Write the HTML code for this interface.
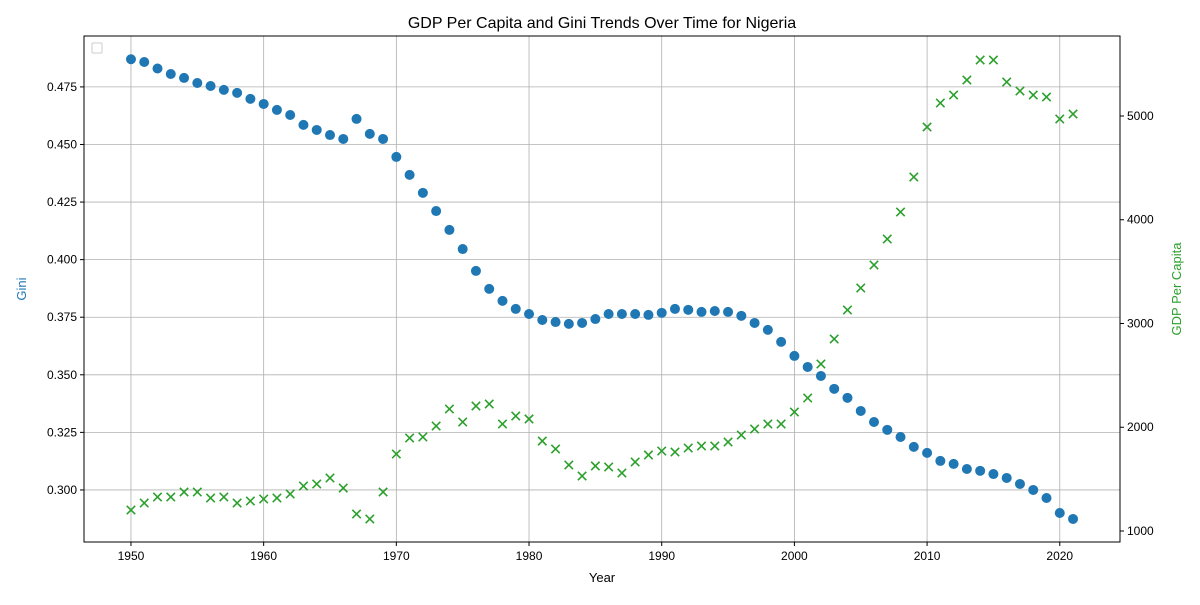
<!DOCTYPE html>
<html><head><meta charset="utf-8"><style>
body{margin:0;background:#fff;}
svg{font-family:"Liberation Sans","DejaVu Sans",sans-serif;}
</style></head><body>
<svg id="chart" width="1200" height="600">
<rect x="0" y="0" width="1200" height="600" fill="#fff"/>
<g id="grid"></g>
<g id="marks"></g>
<rect x="84" y="36" width="1036" height="506" fill="none" stroke="#000" stroke-width="1"/>
<g id="axes"></g>
<text x="602" y="28" text-anchor="middle" font-size="16">GDP Per Capita and Gini Trends Over Time for Nigeria</text>
<text x="602" y="582" text-anchor="middle" font-size="13">Year</text>
<text transform="translate(26,289) rotate(-90)" text-anchor="middle" font-size="13" fill="#1f77b4">Gini</text>
<text transform="translate(1181,289) rotate(-90)" text-anchor="middle" font-size="13" fill="#2ca02c">GDP Per Capita</text>
<rect x="92" y="43" width="10" height="10" rx="1" fill="#fff" stroke="#ccc"/>
</svg>
<script>
const years = [];
for (let y = 1950; y <= 2021; y++) years.push(y);
const gini = [0.487,0.4858,0.483,0.4806,0.4789,0.4767,0.4754,0.4737,0.4724,0.4698,0.4676,0.465,0.4628,0.4585,0.4563,0.4541,0.4524,0.4611,0.4546,0.4524,0.4446,0.4368,0.429,0.4211,0.4129,0.4046,0.3951,0.3873,0.3821,0.3786,0.3764,0.3738,0.3729,0.3721,0.3725,0.3742,0.3764,0.3764,0.3764,0.376,0.3769,0.3786,0.3782,0.3773,0.3777,0.3773,0.3756,0.3725,0.3695,0.3643,0.3582,0.3534,0.3495,0.3439,0.34,0.3343,0.3295,0.3261,0.323,0.3187,0.3161,0.3126,0.3113,0.3091,0.3083,0.3069,0.3052,0.3026,0.300,0.2965,0.290,0.2874];
const gdp = [1202,1270,1328,1328,1376,1376,1318,1328,1270,1289,1308,1318,1357,1434,1453,1511,1414,1164,1116,1376,1742,1896,1906,2012,2176,2051,2205,2224,2031,2108,2080,1867,1790,1636,1530,1627,1617,1559,1665,1733,1771,1761,1800,1819,1819,1858,1925,1983,2031,2031,2147,2282,2610,2851,3130,3342,3564,3814,4075,4412,4894,5125,5202,5347,5540,5540,5328,5241,5202,5183,4971,5019];
const xTicks = [1950,1960,1970,1980,1990,2000,2010,2020];
const giniTicks = [0.300,0.325,0.350,0.375,0.400,0.425,0.450,0.475];
const gdpTicks = [1000,2000,3000,4000,5000];

const L=84,R=1120,T=36,B=542;
const X = v => L + (v-1946.46)/(2024.54-1946.46)*(R-L);
const YL = v => B - (v-0.2774)/(0.4971-0.2774)*(B-T);
const YR = v => B - (v-894)/(5771-894)*(B-T);
const NS="http://www.w3.org/2000/svg";
function mk(tag, attrs, parent){const e=document.createElementNS(NS,tag);for(const k in attrs)e.setAttribute(k,attrs[k]);parent.appendChild(e);return e;}
const grid=document.getElementById('grid'),marks=document.getElementById('marks'),axes=document.getElementById('axes');

xTicks.forEach(t=>{
  const x=X(t);
  const g=mk('line',{x1:x,x2:x,y1:T,y2:B,stroke:'#b0b0b0','stroke-width':0.8},grid);
  
  
  mk('line',{x1:x,x2:x,y1:B,y2:B+4,stroke:'#000'},axes);
  const tx=mk('text',{x:x,y:B+18,'text-anchor':'middle','font-size':12},axes);
  tx.textContent=t;
  
  
});
giniTicks.forEach(t=>{
  const y=YL(t);
  const g=mk('line',{x1:L,x2:R,y1:y,y2:y,stroke:'#b0b0b0','stroke-width':0.8},grid);
  
  
  mk('line',{x1:L-4,x2:L,y1:y,y2:y,stroke:'#000'},axes);
  const tx=mk('text',{x:L-7,y:y+4,'text-anchor':'end','font-size':12},axes);
  tx.textContent=t.toFixed(3);
  
  
});
gdpTicks.forEach(t=>{
  const y=YR(t);
  mk('line',{x1:R,x2:R+4,y1:y,y2:y,stroke:'#000'},axes);
  const tx=mk('text',{x:R+7,y:y+4,'text-anchor':'start','font-size':12},axes);
  tx.textContent=t;
  
  
});
years.forEach((yr,i)=>{
  const c=mk('circle',{cx:X(yr),cy:YL(gini[i]),r:5,fill:'#1f77b4'},marks);
  
  
  const x=X(yr),y=YR(gdp[i]),s=4.2;
  const p=mk('path',{d:`M${x-s},${y-s}L${x+s},${y+s}M${x-s},${y+s}L${x+s},${y-s}`,stroke:'#2ca02c','stroke-width':1.6,fill:'none'},marks);
  
  
});
</script>
</body></html>
